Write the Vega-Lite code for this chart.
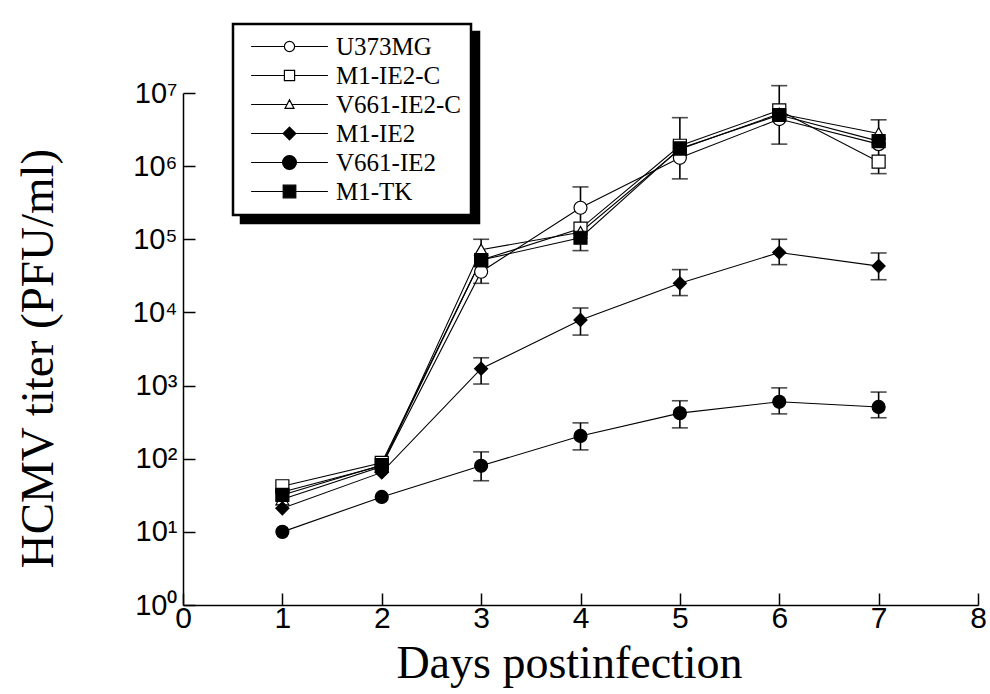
{
  "$schema": "https://vega.github.io/schema/vega-lite/v6.json",
  "width": 795,
  "height": 512,
  "autosize": {"type": "none"},
  "padding": {"left": 183, "top": 93, "right": 12, "bottom": 89},
  "background": "white",
  "config": {
    "view": {"stroke": null},
    "legend": {"strokeWidth": 2.5},
    "axis": {"grid": false, "domainColor": "black", "tickColor": "black", "labelColor": "black", "titleColor": "black", "domainWidth": 1.5, "tickWidth": 1.5, "labelOverlap": false, "labelBound": false, "labelFlush": false}
  },
  "datasets": {
    "pts": [
      {"series": "U373MG", "day": 1, "titer": 35},
      {"series": "U373MG", "day": 2, "titer": 80},
      {"series": "U373MG", "day": 3, "titer": 36000},
      {"series": "U373MG", "day": 4, "titer": 270000},
      {"series": "U373MG", "day": 5, "titer": 1300000},
      {"series": "U373MG", "day": 6, "titer": 4400000},
      {"series": "U373MG", "day": 7, "titer": 2000000},
      {"series": "M1-IE2-C", "day": 1, "titer": 42},
      {"series": "M1-IE2-C", "day": 2, "titer": 88},
      {"series": "M1-IE2-C", "day": 3, "titer": 52000},
      {"series": "M1-IE2-C", "day": 4, "titer": 140000},
      {"series": "M1-IE2-C", "day": 5, "titer": 1900000},
      {"series": "M1-IE2-C", "day": 6, "titer": 5800000},
      {"series": "M1-IE2-C", "day": 7, "titer": 1150000},
      {"series": "V661-IE2-C", "day": 1, "titer": 28},
      {"series": "V661-IE2-C", "day": 2, "titer": 78},
      {"series": "V661-IE2-C", "day": 3, "titer": 72000},
      {"series": "V661-IE2-C", "day": 4, "titer": 125000},
      {"series": "V661-IE2-C", "day": 5, "titer": 1700000},
      {"series": "V661-IE2-C", "day": 6, "titer": 5200000},
      {"series": "V661-IE2-C", "day": 7, "titer": 2800000},
      {"series": "M1-IE2", "day": 1, "titer": 21},
      {"series": "M1-IE2", "day": 2, "titer": 65},
      {"series": "M1-IE2", "day": 3, "titer": 1700},
      {"series": "M1-IE2", "day": 4, "titer": 7900},
      {"series": "M1-IE2", "day": 5, "titer": 25000},
      {"series": "M1-IE2", "day": 6, "titer": 66000},
      {"series": "M1-IE2", "day": 7, "titer": 43000},
      {"series": "V661-IE2", "day": 1, "titer": 10},
      {"series": "V661-IE2", "day": 2, "titer": 30},
      {"series": "V661-IE2", "day": 3, "titer": 80},
      {"series": "V661-IE2", "day": 4, "titer": 205},
      {"series": "V661-IE2", "day": 5, "titer": 420},
      {"series": "V661-IE2", "day": 6, "titer": 600},
      {"series": "V661-IE2", "day": 7, "titer": 510},
      {"series": "M1-TK", "day": 1, "titer": 32},
      {"series": "M1-TK", "day": 2, "titer": 82},
      {"series": "M1-TK", "day": 3, "titer": 52000},
      {"series": "M1-TK", "day": 4, "titer": 105000},
      {"series": "M1-TK", "day": 5, "titer": 1750000},
      {"series": "M1-TK", "day": 6, "titer": 5000000},
      {"series": "M1-TK", "day": 7, "titer": 2200000}
    ],
    "errs": [
      {"group": "cluster", "day": 3, "lo": 25000, "hi": 100000},
      {"group": "cluster", "day": 4, "lo": 70000, "hi": 520000},
      {"group": "cluster", "day": 5, "lo": 670000, "hi": 4600000},
      {"group": "cluster", "day": 6, "lo": 2000000, "hi": 12600000},
      {"group": "cluster", "day": 7, "lo": 790000, "hi": 4300000},
      {"group": "M1-IE2", "day": 3, "lo": 1050, "hi": 2400},
      {"group": "M1-IE2", "day": 4, "lo": 4900, "hi": 11500},
      {"group": "M1-IE2", "day": 5, "lo": 17000, "hi": 38500},
      {"group": "M1-IE2", "day": 6, "lo": 45000, "hi": 100000},
      {"group": "M1-IE2", "day": 7, "lo": 28000, "hi": 65000},
      {"group": "V661-IE2", "day": 3, "lo": 50, "hi": 124},
      {"group": "V661-IE2", "day": 4, "lo": 132, "hi": 309},
      {"group": "V661-IE2", "day": 5, "lo": 264, "hi": 620},
      {"group": "V661-IE2", "day": 6, "lo": 410, "hi": 930},
      {"group": "V661-IE2", "day": 7, "lo": 363, "hi": 815}
    ]
  },
  "layer": [
    {
      "data": {"name": "pts"},
      "mark": {"type": "line", "color": "black", "strokeWidth": 1.1},
      "encoding": {
        "x": {"field": "day", "type": "quantitative", "scale": {"domain": [0, 8], "nice": false},
          "axis": {"values": [0, 1, 2, 3, 4, 5, 6, 7, 8], "format": "d", "tickSize": -12, "labelPadding": 10, "labelFont": "Liberation Sans Narrow, Liberation Sans", "labelFontSize": 30, "title": "Days postinfection", "titleFont": "Liberation Serif", "titleFontSize": 46, "titleFontWeight": "normal", "titleX": 386, "titleY": 72, "titleAlign": "center", "titleBaseline": "alphabetic"}},
        "y": {"field": "titer", "type": "quantitative", "scale": {"type": "log", "domain": [1, 10000000], "nice": false},
          "axis": {"values": [1, 10, 100, 1000, 10000, 100000, 1000000, 10000000], "tickSize": -12, "labelPadding": 18, "labelFont": "Liberation Sans", "labelFontSize": 29, "labelExpr": "'10' + ['⁰','¹','²','³','⁴','⁵','⁶','⁷'][round(log(datum.value)/LN10)]", "title": "HCMV titer (PFU/ml)", "titleFont": "Liberation Serif", "titleFontSize": 47, "titleFontWeight": "normal", "titleX": -131, "titleY": 265, "titleAngle": -90, "titleAlign": "center", "titleBaseline": "alphabetic"}},
        "detail": {"field": "series"}
      }
    },
    {
      "data": {"name": "errs"},
      "mark": {"type": "errorbar", "ticks": {"size": 16, "thickness": 1.6, "color": "black"}, "rule": {"strokeWidth": 1.6, "color": "black"}},
      "encoding": {
        "x": {"field": "day", "type": "quantitative"},
        "y": {"field": "lo", "type": "quantitative", "title": "HCMV titer (PFU/ml)"},
        "y2": {"field": "hi"}
      }
    },
    {
      "data": {"name": "pts"},
      "mark": {"type": "point", "filled": true, "stroke": "black", "strokeWidth": 1.2, "opacity": 1},
      "encoding": {
        "x": {"field": "day", "type": "quantitative"},
        "y": {"field": "titer", "type": "quantitative", "title": "HCMV titer (PFU/ml)"},
        "shape": {"field": "series", "type": "nominal", "legend": null,
          "scale": {"domain": ["U373MG", "M1-IE2-C", "V661-IE2-C", "M1-IE2", "V661-IE2", "M1-TK"], "range": ["circle", "square", "triangle-up", "diamond", "circle", "square"]}},
        "fill": {"field": "series", "type": "nominal", "legend": null,
          "scale": {"domain": ["U373MG", "M1-IE2-C", "V661-IE2-C", "M1-IE2", "V661-IE2", "M1-TK"], "range": ["white", "white", "white", "black", "black", "black"]}},
        "size": {"field": "series", "type": "nominal", "legend": null,
          "scale": {"domain": ["U373MG", "M1-IE2-C", "V661-IE2-C", "M1-IE2", "V661-IE2", "M1-TK"], "range": [169, 169, 150, 225, 256, 225]}}
      }
    },
    {
      "data": {"name": "pts"},
      "transform": [{"filter": "datum.day < 0"}],
      "mark": {"type": "point", "filled": true},
      "encoding": {
        "x": {"field": "day", "type": "quantitative"},
        "y": {"field": "titer", "type": "quantitative", "title": "HCMV titer (PFU/ml)"},
        "shape": {"field": "series", "type": "nominal", "title": null,
          "scale": {"domain": ["U373MG", "M1-IE2-C", "V661-IE2-C", "M1-IE2", "V661-IE2", "M1-TK"], "range": ["M-1,-1H1V1H-1Z", "M-1,-1H1V1H-1Z", "M-1,-1H1V1H-1Z", "M-1,-1H1V1H-1Z", "M-1,-1H1V1H-1Z", "M-1,-1H1V1H-1Z"]},
          "legend": {"orient": "none", "legendX": 58, "legendY": -61, "padding": 10, "fillColor": "black", "strokeColor": "black", "labelFont": "Liberation Serif", "labelFontSize": 25, "labelColor": "black", "labelExpr": "'.'", "symbolSize": 144, "symbolOffset": 34, "labelOffset": 152, "rowPadding": 3, "symbolOpacity": 1}},
        "fill": {"field": "series", "type": "nominal", "title": null,
          "scale": {"domain": ["U373MG", "M1-IE2-C", "V661-IE2-C", "M1-IE2", "V661-IE2", "M1-TK"], "range": ["black", "black", "black", "black", "black", "black"]},
          "legend": {"orient": "none", "legendX": 58, "legendY": -61, "padding": 10, "fillColor": "black", "strokeColor": "black", "labelFont": "Liberation Serif", "labelFontSize": 25, "labelColor": "black", "labelExpr": "'.'", "symbolSize": 144, "symbolOffset": 34, "labelOffset": 152, "rowPadding": 3, "symbolOpacity": 1}}
      }
    },
    {
      "data": {"name": "pts"},
      "transform": [{"filter": "datum.day < 0"}],
      "mark": {"type": "point", "filled": true},
      "encoding": {
        "x": {"field": "day", "type": "quantitative"},
        "y": {"field": "titer", "type": "quantitative", "title": "HCMV titer (PFU/ml)"},
        "shape": {"field": "series", "type": "nominal", "title": null,
          "scale": {"domain": ["U373MG", "M1-IE2-C", "V661-IE2-C", "M1-IE2", "V661-IE2", "M1-TK"],
            "range": [
              "M-6.4,0H-0.85M0.85,0H6.4M0.85,0A0.85,0.85,0,1,1,-0.85,0A0.85,0.85,0,1,1,0.85,0Z",
              "M-6.4,0H-0.85M0.85,0H6.4M-0.85,-0.85H0.85V0.85H-0.85Z",
              "M-6.4,0H-0.43M0.43,0H6.4M0,-0.8L0.75,0.65H-0.75Z",
              "M-6.4,0H6.4M0,-1.05L1.05,0L0,1.05L-1.05,0Z",
              "M-6.4,0H6.4M1.15,0A1.15,1.15,0,1,1,-1.15,0A1.15,1.15,0,1,1,1.15,0Z",
              "M-6.4,0H6.4M-1.05,-1.05H1.05V1.05H-1.05Z"
            ]},
          "legend": {"orient": "none", "legendX": 50, "legendY": -69, "padding": 10, "fillColor": "white", "strokeColor": "black", "labelFont": "Liberation Serif", "labelFontSize": 25, "labelColor": "black", "symbolSize": 144, "symbolOffset": 34, "labelOffset": 34, "rowPadding": 3, "symbolOpacity": 1,
            "encode": {"symbols": {"update": {"stroke": {"value": "black"}, "strokeWidth": {"value": 1.2}}}}}},
        "fill": {"field": "series", "type": "nominal", "title": null,
          "scale": {"domain": ["U373MG", "M1-IE2-C", "V661-IE2-C", "M1-IE2", "V661-IE2", "M1-TK"], "range": ["white", "white", "white", "black", "black", "black"]},
          "legend": {"orient": "none", "legendX": 50, "legendY": -69, "padding": 10, "fillColor": "white", "strokeColor": "black", "labelFont": "Liberation Serif", "labelFontSize": 25, "labelColor": "black", "symbolSize": 144, "symbolOffset": 34, "labelOffset": 34, "rowPadding": 3, "symbolOpacity": 1,
            "encode": {"symbols": {"update": {"stroke": {"value": "black"}, "strokeWidth": {"value": 1.2}}}}}}
      }
    }
  ],
  "resolve": {"scale": {"shape": "independent", "fill": "independent", "size": "independent"}, "legend": {"shape": "independent", "fill": "independent"}}
}
